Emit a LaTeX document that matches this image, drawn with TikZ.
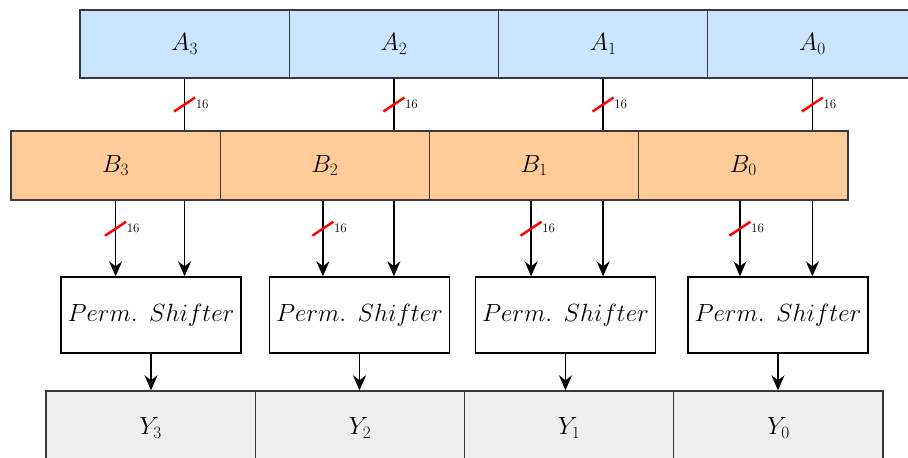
\documentclass[tikz,border=0pt]{standalone}
\usetikzlibrary{arrows.meta,calc}
\definecolor{aFill}{HTML}{CCE5FF}
\definecolor{bFill}{HTML}{FFCC99}
\definecolor{yFill}{HTML}{EEEEEE}
\definecolor{edgeGray}{HTML}{36393D}
\begin{document}
\begin{tikzpicture}[x=1pt,y=-1pt,
  cell/.style={draw=edgeGray, line width=1.4pt, minimum width=209.25pt, minimum height=68pt, inner sep=0pt, font=\fontsize{24}{28}\selectfont},
  acell/.style={cell, fill=aFill},
  bcell/.style={cell, fill=bFill, minimum height=69pt},
  ycell/.style={cell, fill=yFill, minimum height=74pt},
  perm/.style={draw=black, line width=1.4pt, fill=white, minimum width=180pt, minimum height=76pt, inner sep=0pt, font=\fontsize{24}{28}\selectfont},
  wire/.style={line width=1.4pt, black},
  arr/.style={wire, -{Stealth[length=15pt,width=13pt,inset=5pt]}},
  slashmark/.style={red, line width=2.4pt},
  buslabel/.style={font=\fontsize{13}{15}\selectfont, anchor=west, inner sep=0pt}
]
\useasboundingbox (0,0) rectangle (908,458);
% A row
\node[acell] (A3) at (184.6,44) {$A_3$};
\node[acell] (A2) at (393.9,44) {$A_2$};
\node[acell] (A1) at (603.1,44) {$A_1$};
\node[acell] (A0) at (812.4,44) {$A_0$};
% B row
\node[bcell] (B3) at (115.6,165.5) {$B_3$};
\node[bcell] (B2) at (324.9,165.5) {$B_2$};
\node[bcell] (B1) at (534.1,165.5) {$B_1$};
\node[bcell] (B0) at (743.4,165.5) {$B_0$};
% Perm shifters
\node[perm] (P3) at (151,315) {$Perm.\ \,Shifter$};
\node[perm] (P2) at (359.5,315) {$Perm.\ \,Shifter$};
\node[perm] (P1) at (565.5,315) {$Perm.\ \,Shifter$};
\node[perm] (P0) at (778,315) {$Perm.\ \,Shifter$};
% Y row
\node[ycell] (Y3) at (150.6,428) {$Y_3$};
\node[ycell] (Y2) at (359.9,428) {$Y_2$};
\node[ycell] (Y1) at (569.1,428) {$Y_1$};
\node[ycell] (Y0) at (778.4,428) {$Y_0$};
% connectors
\foreach \i/\dx in {3/0,2/-2,1/-3,0/-3.4}{
  % A -> B bus
  \draw[wire] (A\i.south) -- (A\i.south |- B\i.north) coordinate[pos=0.5] (ma\i);
  \draw[slashmark] ($(ma\i)+(-10.5,7)$) -- ($(ma\i)+(10.5,-7)$);
  \node[buslabel] at ($(ma\i)+(11,0)$) {16};
  % B -> Perm (slashed)
  \draw[arr] ([xshift=\dx pt]B\i.south) -- ([xshift=\dx pt]B\i.south |- P\i.north) coordinate[pos=0.37] (mb\i);
  \draw[slashmark] ($(mb\i)+(-10.5,7)$) -- ($(mb\i)+(10.5,-7)$);
  \node[buslabel] at ($(mb\i)+(11,0)$) {16};
  % pass-through from A line
  \draw[arr] (A\i.south |- B\i.south) -- (A\i.south |- P\i.north);
  % Perm -> Y
  \draw[arr] (P\i.south) -- (P\i.south |- Y\i.north);
}
\end{tikzpicture}
\end{document}
